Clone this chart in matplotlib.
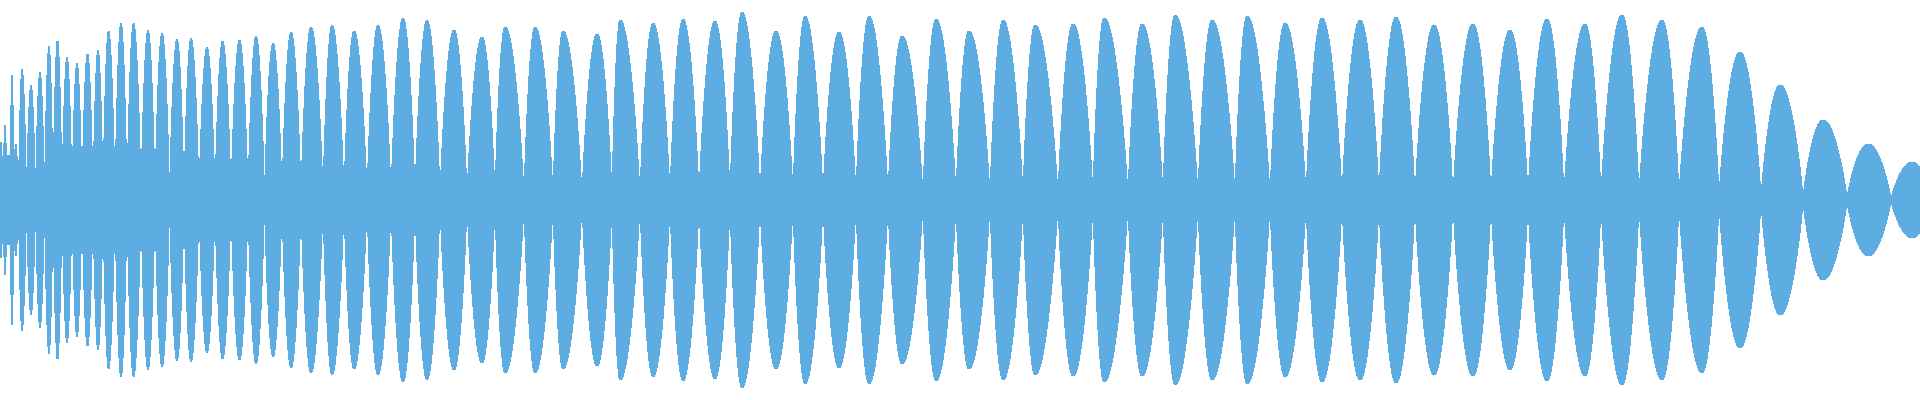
import numpy as np
import matplotlib
matplotlib.use("Agg")
import matplotlib.pyplot as plt

# Lobe boundaries (zero nodes of the envelope), in pixel-like x units
nodes = [0, 3, 7, 10, 14, 18.5, 26.5, 35.5, 44.5, 53, 62, 72, 82, 93, 103, 115,
         127, 141, 155, 169.5, 184, 199, 215, 231, 248, 264.5, 282, 301, 323,
         344, 367, 391, 415, 440, 467, 495, 524, 553, 582, 612, 640, 670, 699,
         730, 760, 793, 823, 856, 888, 923, 956, 990, 1023, 1058, 1093, 1128,
         1163, 1198, 1235, 1270, 1306, 1342, 1379, 1415, 1453, 1491, 1528,
         1564, 1601, 1639, 1679, 1719, 1761, 1803, 1847, 1891, 1933]

# Position of each lobe's peak
peak_x = [1, 5, 8.5, 12, 15.5, 22, 31, 40, 49, 57.5, 67, 77, 87.5, 98, 108.5,
          121, 133.5, 148, 162, 177, 191, 207, 222.5, 239.5, 256, 273, 291, 311,
          332, 354, 378, 403, 427, 454, 482, 505, 535, 563, 597, 620, 653, 683,
          715, 742, 776, 805, 839, 869, 902, 936, 969, 1003, 1035, 1073, 1104,
          1142, 1175, 1212, 1247, 1285, 1322, 1360, 1396, 1434, 1473, 1510,
          1547, 1585, 1622, 1662, 1702, 1740, 1780, 1823, 1868, 1912]

# Peak amplitude of each lobe
peak_amp = [58, 75, 50, 125, 57, 131, 115, 128, 154, 160, 143, 137, 147, 150,
            169, 177, 177, 170, 167, 161, 162, 153, 159, 160, 164, 157, 168, 173,
            175, 169, 175, 182, 180, 170, 163, 173, 173, 169, 166, 180, 177, 181,
            179, 188, 169, 184, 168, 184, 164, 181, 169, 180, 175, 176, 182, 176,
            185, 180, 184, 177, 182, 180, 183, 175, 176, 170, 181, 176, 185, 180,
            173, 148, 115, 80, 56, 38]

# Residual amplitude in the gaps between lobes, by stretch of the signal
floor_edges = [0, 330, 640, 960, 1280, 1600, 1840, 1940]
floor_vals = [14, 12, 8, 7, 5, 4, 1.5]

COLOR = "#5DADE2"
SHAPE = 0.8  # lobe fullness

x = np.arange(0, 1921, 1.0)
h = np.zeros_like(x)
for i in range(len(peak_amp)):
    s, e, p, a = nodes[i], nodes[i + 1], peak_x[i], peak_amp[i]
    m = (x >= s) & (x <= e)
    xs = x[m]
    frac = np.where(xs <= p,
                    np.clip((xs - s) / max(p - s, 1e-9), 0, 1),
                    np.clip((e - xs) / max(e - p, 1e-9), 0, 1))
    v = a * np.sin(0.5 * np.pi * frac) ** SHAPE
    h[m] = np.maximum(h[m], v)
for j in range(len(floor_vals)):
    m = (x >= floor_edges[j]) & (x < floor_edges[j + 1])
    h[m] = np.maximum(h[m], floor_vals[j])

fig = plt.figure(figsize=(19.2, 4), dpi=100)
ax = fig.add_axes([0, 0, 1, 1])
ax.fill_between(x, -h, h, step="mid", color=COLOR, linewidth=0, antialiased=False)
ax.set_xlim(0, 1920)
ax.set_ylim(-200, 200)
ax.axis("off")
fig.savefig("out.png", dpi=100, facecolor="white")
